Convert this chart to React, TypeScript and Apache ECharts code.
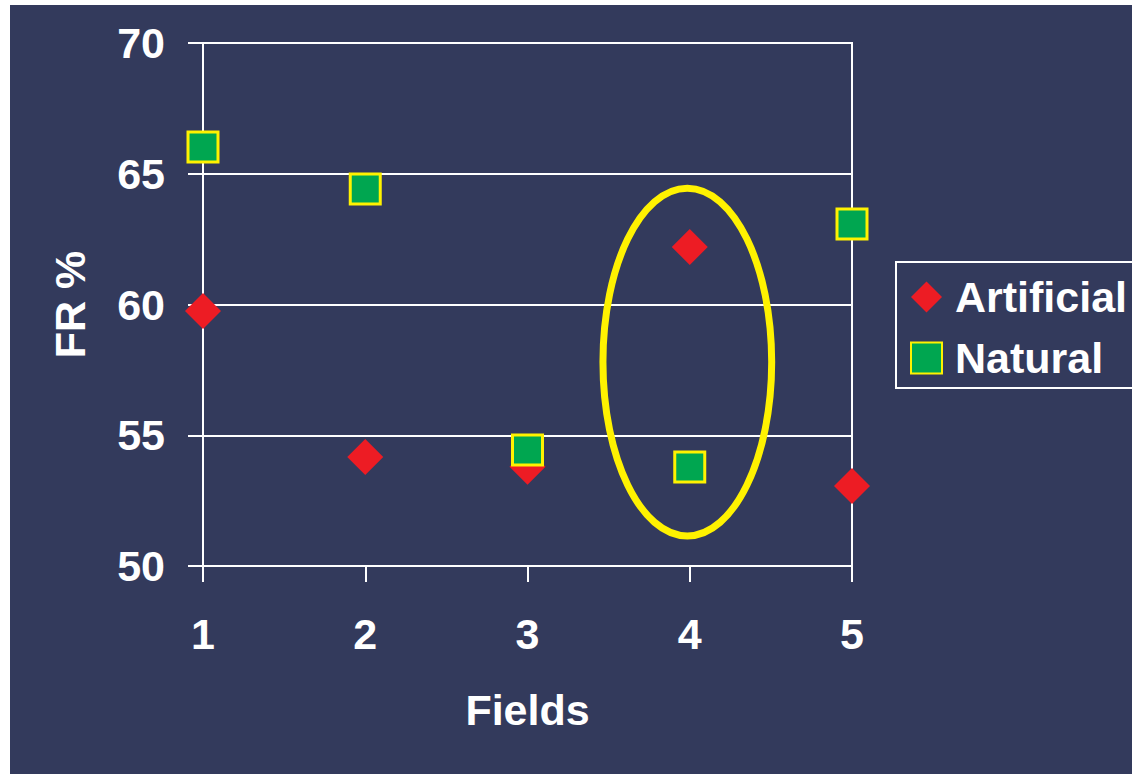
import React, { useEffect, useRef } from "react";
import * as echarts from "echarts";

const fields = [1, 2, 3, 4, 5];
const artificial = [59.75, 54.17, 53.8, 62.2, 53.06];
const natural = [66.02, 64.42, 54.44, 53.79, 63.08];
const yTicks = { min: 50, max: 70, interval: 5 };
// highlighted region around field 4: [centerX, centerY, radiusX, radiusY] in data units
const highlight = [[3.985, 57.8, 0.52, 6.65]];

const FONT = "'Liberation Sans', Arial, sans-serif";
const BG = "#333A5C";

export default function App() {
  const ref = useRef<HTMLDivElement>(null);
  useEffect(() => {
    const chart = echarts.init(ref.current!, null, { renderer: "svg" });
    chart.setOption({
      animation: false,
      backgroundColor: BG,
      textStyle: { fontFamily: FONT },
      grid: {
        left: 193,
        right: 280,
        top: 38,
        bottom: 208,
        show: true,
        borderColor: "#ffffff",
        borderWidth: 2,
      },
      legend: {
        orient: "vertical",
        left: 886,
        top: 257,
        padding: [13, 60, 8, 14],
        itemGap: 17,
        itemWidth: 31,
        itemHeight: 31,
        borderColor: "#ffffff",
        borderWidth: 2,
        textStyle: {
          color: "#ffffff",
          fontSize: 43,
          fontWeight: "bold",
          fontFamily: FONT,
          lineHeight: 44,
          padding: [0, 0, 0, 8],
        },
        data: [
          { name: "Artificial", icon: "diamond" },
          { name: "Natural", icon: "rect" },
        ],
      },
      xAxis: {
        type: "value",
        min: 1,
        max: 5,
        interval: 1,
        name: "Fields",
        nameLocation: "middle",
        nameGap: 122,
        nameTextStyle: { color: "#ffffff", fontSize: 43, fontWeight: "bold", fontFamily: FONT },
        axisLine: { show: true, lineStyle: { color: "#ffffff", width: 2 } },
        axisTick: { show: true, length: 16, lineStyle: { color: "#ffffff", width: 2 } },
        axisLabel: { color: "#ffffff", fontSize: 43, fontWeight: "bold", fontFamily: FONT, margin: 46 },
        splitLine: { show: false },
      },
      yAxis: {
        type: "value",
        min: yTicks.min,
        max: yTicks.max,
        interval: yTicks.interval,
        name: "FR %",
        nameLocation: "middle",
        nameGap: 112,
        nameRotate: 90,
        nameTextStyle: { color: "#ffffff", fontSize: 43, fontWeight: "bold", fontFamily: FONT },
        axisLine: { show: true, lineStyle: { color: "#ffffff", width: 2 } },
        axisTick: { show: true, length: 15, lineStyle: { color: "#ffffff", width: 2 } },
        axisLabel: { color: "#ffffff", fontSize: 43, fontWeight: "bold", fontFamily: FONT, margin: 38 },
        splitLine: { show: true, lineStyle: { color: "#ffffff", width: 2 } },
      },
      series: [
        {
          name: "Artificial",
          type: "scatter",
          symbol: "diamond",
          symbolSize: 36,
          itemStyle: { color: "#ED1C24", opacity: 1 },
          data: fields.map((f, i) => [f, artificial[i]]),
          z: 3,
        },
        {
          name: "Natural",
          type: "scatter",
          symbol: "rect",
          symbolSize: 30,
          itemStyle: { color: "#00A650", borderColor: "#FFF200", borderWidth: 3, opacity: 1 },
          data: fields.map((f, i) => [f, natural[i]]),
          z: 4,
        },
        {
          name: "highlight",
          type: "custom",
          silent: true,
          z: 2,
          data: highlight,
          renderItem: (params: any, api: any) => {
            const cx = api.value(0);
            const cy = api.value(1);
            const rxv = api.value(2);
            const ryv = api.value(3);
            const c = api.coord([cx, cy]);
            const p = api.coord([cx + rxv, cy + ryv]);
            return {
              type: "ellipse",
              shape: { cx: c[0], cy: c[1], rx: p[0] - c[0], ry: c[1] - p[1] },
              style: { fill: "none", stroke: "#FFF200", lineWidth: 7 },
            };
          },
        },
      ],
    });
    return () => chart.dispose();
  }, []);
  return (
    <div
      ref={ref}
      style={{ position: "absolute", left: 10, top: 5, width: 1122, height: 769 }}
    />
  );
}
